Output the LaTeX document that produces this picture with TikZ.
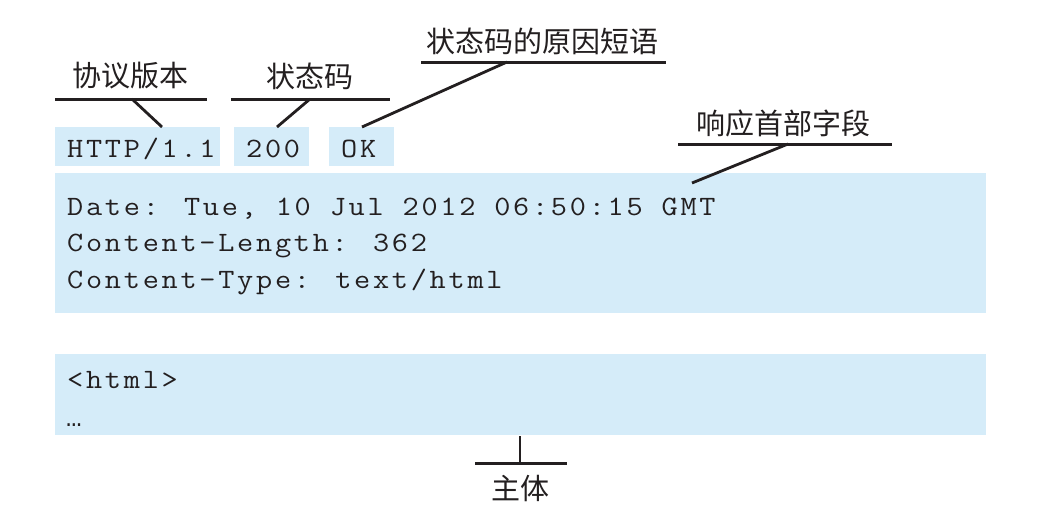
\documentclass[tikz,border=0pt]{standalone}
\usepackage{fontspec}
\newfontfamily\cjk{Noto Sans CJK SC}
\newfontfamily\codefont[FakeStretch=1.12,LetterSpace=9.8]{Latin Modern Mono}
\newfontfamily\dotsfont{Liberation Mono}
\definecolor{boxblue}{RGB}{213,236,249}
\definecolor{ink}{RGB}{35,31,32}
\begin{document}
\begin{tikzpicture}[x=1pt,y=-1pt,
  box/.style={fill=boxblue, draw=none, inner sep=0pt, anchor=north west},
  code/.style={font=\codefont\fontsize{28}{36.5}\selectfont, text=ink, inner sep=0pt, anchor=base west, align=left},
  label/.style={font=\cjk\fontsize{29}{32}\selectfont, text=ink, inner sep=0pt},
  bar/.style={draw=ink, line width=3pt},
  lead/.style={draw=ink, line width=2.8pt}]
\useasboundingbox (0,0) rectangle (1049,525);
% boxes
\node[box, minimum width=165pt, minimum height=39pt] (verbox) at (55,127) {};
\node[box, minimum width=75pt, minimum height=39pt] (codebox) at (234,127) {};
\node[box, minimum width=65pt, minimum height=39pt] (okbox) at (329,127) {};
\node[box, minimum width=931pt, minimum height=140pt] (hdrbox) at (55,173) {};
\node[box, minimum width=931pt, minimum height=81pt] (bodybox) at (55,354) {};
% code texts
\node[code] (vertxt) at (67,157) {HTTP/1.1};
\node[code] (codetxt) at (246,157) {200};
\node[code] (oktxt) at (341,157) {OK};
\node[code] (date) at (67,215) {Date: Tue, 10 Jul 2012 06:50:15 GMT};
\node[code] (clen) at (67,251.5) {Content-Length: 362};
\node[code] (ctype) at (67,288) {Content-Type: text/html};
\node[code] (html) at (67,388) {<html>};
\node[code, font=\dotsfont\fontsize{26}{30}\selectfont] (dots) at (66,426) {…};
% labels
\node[label] (lver) at (130,76) {协议版本};
\node[label] (lcode) at (310,76) {状态码};
\node[label] (lreason) at (542,41) {状态码的原因短语};
\node[label] (lhdr) at (783,123) {响应首部字段};
\node[label] (lbody) at (520,488) {主体};
% bars
\coordinate (verL) at (55,99); \coordinate (verR) at (207,99); \coordinate (verM) at (132,99);
\coordinate (codeL) at (231,99); \coordinate (codeR) at (390,99); \coordinate (codeM) at (310,99);
\coordinate (reaL) at (421,62); \coordinate (reaR) at (666,62); \coordinate (reaM) at (507,62);
\coordinate (hdrL) at (678,144); \coordinate (hdrR) at (892,144); \coordinate (hdrM) at (788,144);
\coordinate (bodL) at (475,463); \coordinate (bodR) at (567,463); \coordinate (bodM) at (520,463);
\coordinate (verP) at (162,127);
\coordinate (codeP) at (277,127);
\coordinate (okP) at (362,127);
\coordinate (hdrP) at (692,183);
\coordinate (bodP) at (520,436);
\draw[bar] (verL) -- (verR);
\draw[bar] (codeL) -- (codeR);
\draw[bar] (reaL) -- (reaR);
\draw[bar] (hdrL) -- (hdrR);
\draw[bar] (bodL) -- (bodR);
\draw[lead] (verM) -- (verP);
\draw[lead] (codeM) -- (codeP);
\draw[lead] (reaM) -- (okP);
\draw[lead] (hdrM) -- (hdrP);
\draw[lead] (bodM) -- (bodP);
\end{tikzpicture}
\end{document}
